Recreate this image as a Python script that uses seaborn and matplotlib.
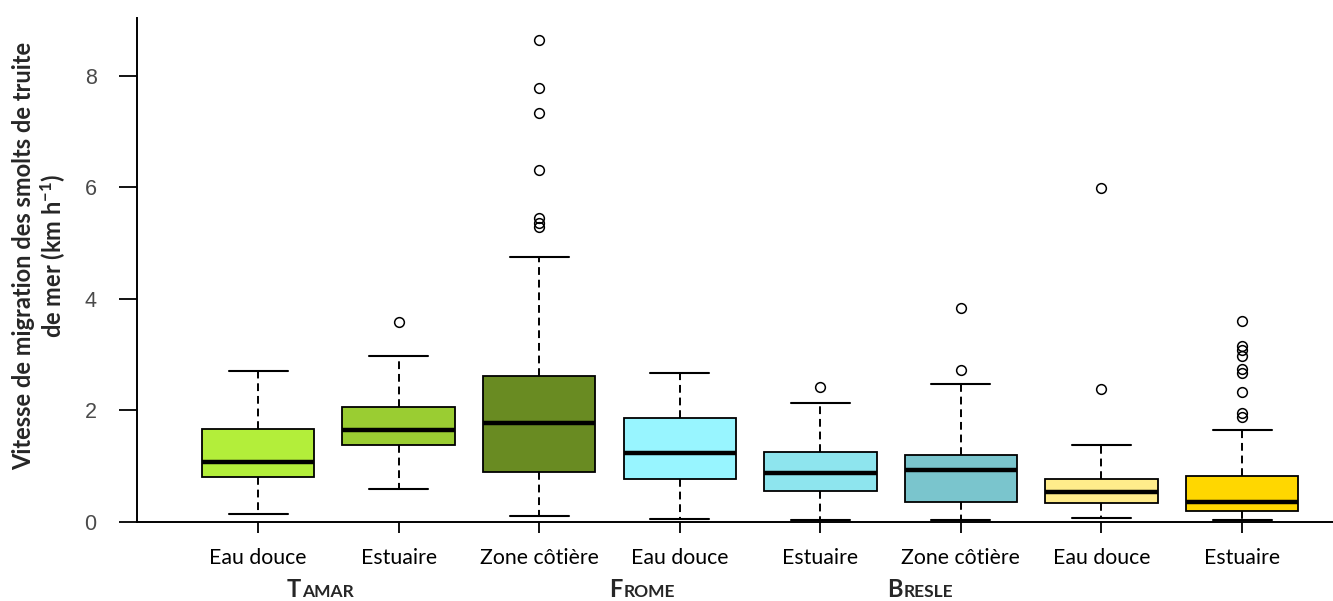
import matplotlib
matplotlib.use("Agg")
import matplotlib.pyplot as plt
import seaborn as sns

# Migration speed summaries (km/h) per river and habitat
habitats = ["Eau douce", "Estuaire", "Zone côtière",
            "Eau douce", "Estuaire", "Zone côtière",
            "Eau douce", "Estuaire"]
rivers = ["TAMAR", "FROME", "BRESLE"]

whisker_low = [0.14, 0.60, 0.11, 0.05, 0.03, 0.03, 0.07, 0.03]
q1 = [0.81, 1.38, 0.90, 0.78, 0.56, 0.36, 0.34, 0.20]
median = [1.07, 1.65, 1.78, 1.23, 0.87, 0.93, 0.53, 0.36]
q3 = [1.66, 2.07, 2.62, 1.86, 1.25, 1.20, 0.77, 0.83]
whisker_high = [2.71, 2.98, 4.76, 2.68, 2.13, 2.48, 1.39, 1.65]
outliers = [
    [],
    [3.58],
    [8.65, 7.79, 7.34, 6.31, 5.45, 5.37, 5.29],
    [],
    [2.43],
    [3.83, 2.73],
    [5.99, 2.38],
    [3.61, 3.15, 3.09, 2.97, 2.74, 2.67, 2.34, 1.95, 1.88],
]
box_colors = ["#B3EE3A", "#9ACD32", "#698B22",
              "#98F5FF", "#8EE5EE", "#7AC5CD",
              "#FFEC8B", "#FFD700"]

y_ticks = [0, 2, 4, 6, 8]

sns.set_theme(style="ticks")
plt.rcParams["font.family"] = ["Lato", "DejaVu Sans"]
plt.rcParams["mathtext.fontset"] = "custom"
plt.rcParams["mathtext.rm"] = "Lato:bold"
plt.rcParams["mathtext.default"] = "rm"

W, H = 1333, 601
fig = plt.figure(figsize=(W / 100, H / 100), dpi=100, facecolor="white")
ax = fig.add_axes([137 / W, 79 / H, (W - 137) / W, 504 / H])
ax.set_facecolor("white")

stats = []
for i in range(len(habitats)):
    stats.append(dict(med=median[i], q1=q1[i], q3=q3[i],
                      whislo=whisker_low[i], whishi=whisker_high[i],
                      fliers=outliers[i], label=habitats[i]))

positions = list(range(len(habitats)))
parts = ax.bxp(
    stats, positions=positions, widths=0.8, capwidths=0.42,
    patch_artist=True, showfliers=True,
    boxprops=dict(edgecolor="black", linewidth=1.3),
    whiskerprops=dict(color="black", linewidth=1.4, linestyle=(0, (4, 2.5))),
    capprops=dict(color="black", linewidth=1.5),
    medianprops=dict(color="black", linewidth=3.2, solid_capstyle="butt"),
    flierprops=dict(marker="o", markerfacecolor="none", markeredgecolor="black",
                    markersize=7, markeredgewidth=1.1),
)
for patch, col in zip(parts["boxes"], box_colors):
    patch.set_facecolor(col)

ax.set_xlim(-0.861, 7.647)
ax.set_ylim(0, 9.04)
ax.set_yticks(y_ticks)
ax.set_yticklabels([str(t) for t in y_ticks], family="Liberation Sans",
                   fontsize=15.5, color="#4a4a4a")
ax.set_xticks(positions)
ax.set_xticklabels(habitats, fontsize=15.3, color="black")
ax.tick_params(axis="y", length=13, width=1.3, pad=16, color="black")
ax.tick_params(axis="x", length=8, width=1.3, pad=11, color="black")
sns.despine(ax=ax)
for side in ("left", "bottom"):
    ax.spines[side].set_linewidth(1.4)
    ax.spines[side].set_color("black")

# y-axis title
fig.text(40 / W, 1 - 256 / H,
         "Vitesse de migration des smolts de truite\nde mer (km h$^{-1}$)",
         rotation=90, ha="center", va="center", multialignment="center",
         fontsize=17, fontweight="bold", linespacing=1.12)

# River names in small capitals under the habitat labels
fig.canvas.draw()
renderer = fig.canvas.get_renderer()
group_centers_px = [320, 642, 920]
baseline_px = H - 597
for name, cx in zip(rivers, group_centers_px):
    first = fig.text(0, baseline_px / H, name[0], fontsize=17,
                     fontweight="bold", va="baseline", ha="left")
    rest = fig.text(0, baseline_px / H, name[1:], fontsize=12.5,
                    fontweight="bold", va="baseline", ha="left")
    w1 = first.get_window_extent(renderer).width
    w2 = rest.get_window_extent(renderer).width
    x0 = cx - (w1 + w2) / 2
    first.set_x(x0 / W)
    rest.set_x((x0 + w1 + 0.5) / W)

fig.savefig("out.png", dpi=100, facecolor="white")
